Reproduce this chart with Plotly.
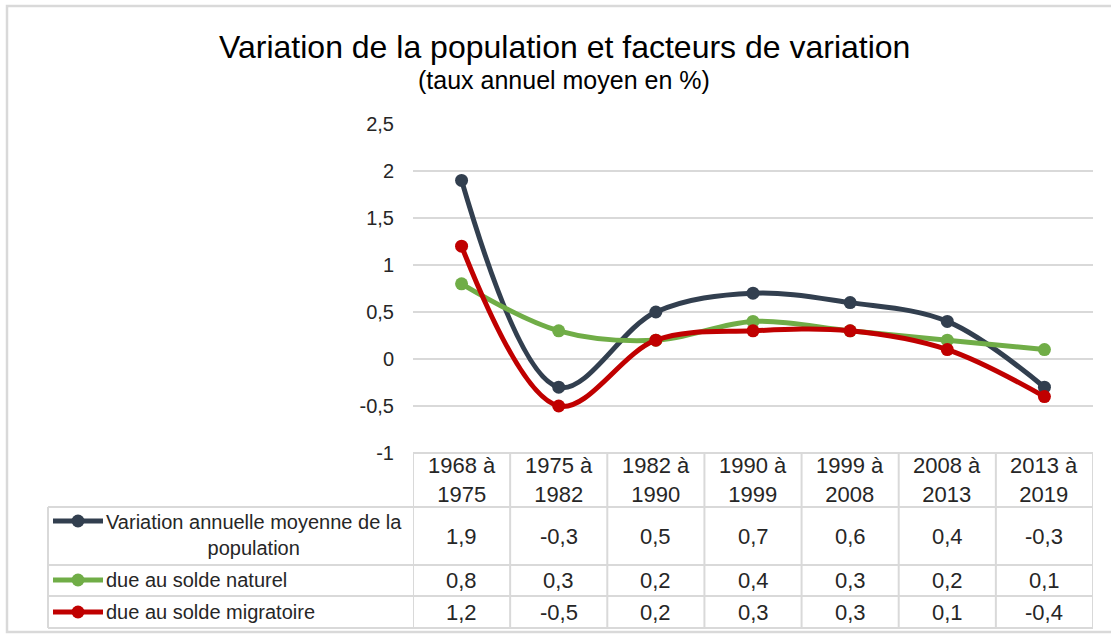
import plotly.graph_objects as go

# Periods and annual average rates (%)
periods = ["1968 à<br>1975", "1975 à<br>1982", "1982 à<br>1990", "1990 à<br>1999",
           "1999 à<br>2008", "2008 à<br>2013", "2013 à<br>2019"]
variation_totale = [1.9, -0.3, 0.5, 0.7, 0.6, 0.4, -0.3]
solde_naturel = [0.8, 0.3, 0.2, 0.4, 0.3, 0.2, 0.1]
solde_migratoire = [1.2, -0.5, 0.2, 0.3, 0.3, 0.1, -0.4]

series_names = ["Variation annuelle moyenne de la<br>population",
                "due au solde naturel",
                "due au solde migratoire"]
series_values = [variation_totale, solde_naturel, solde_migratoire]
series_colors = ["#323F4F", "#70AD47", "#C00000"]

y_ticks = [-1, -0.5, 0, 0.5, 1, 1.5, 2, 2.5]
y_ticktext = ["-1", "-0,5", "0", "0,5", "1", "1,5", "2", "2,5"]

W, H = 1111, 637
L, R, T, B = 413, 1093, 124, 453  # plot area in pixels


def px(x):
    return (x - L) / (R - L)


def py(y):
    return (B - y) / (B - T)


def fmt(v):
    return f"{v:.1f}".replace(".", ",")


BODY_FONT = "Liberation Sans, Arial, sans-serif"
TITLE_FONT = "Liberation Sans Narrow, Arial Narrow, Liberation Sans, sans-serif"
GRID = "#D9D9D9"
TEXT = "#262626"

xs = list(range(len(periods)))

fig = go.Figure()
for name, vals, col in zip(series_names, series_values, series_colors):
    fig.add_trace(go.Scatter(
        x=xs, y=vals, name=name, mode="lines+markers",
        line=dict(color=col, width=5, shape="spline", smoothing=1.0),
        marker=dict(color=col, size=13),
        cliponaxis=False, showlegend=False,
    ))

shapes = []
annotations = []

# outer chart frame
shapes.append(dict(type="rect", xref="paper", yref="paper",
                   x0=px(7), x1=px(1130), y0=py(632), y1=py(6),
                   line=dict(color=GRID, width=2.5), layer="below"))

# data table grid
row_edges = [453, 507, 565, 596, 628]
for i, ye in enumerate(row_edges):
    x_start = L if i == 0 else 48
    shapes.append(dict(type="line", xref="paper", yref="paper",
                       x0=px(x_start), x1=px(R), y0=py(ye), y1=py(ye),
                       line=dict(color=GRID, width=2)))
for k in range(len(periods) + 1):
    shapes.append(dict(type="line", xref="x", yref="paper",
                       x0=k - 0.5, x1=k - 0.5, y0=py(453), y1=py(628),
                       line=dict(color=GRID, width=2)))
shapes.append(dict(type="line", xref="paper", yref="paper",
                   x0=px(48), x1=px(48), y0=py(507), y1=py(628),
                   line=dict(color=GRID, width=2)))

# header row (periods)
for k, p in enumerate(periods):
    annotations.append(dict(xref="x", yref="paper", x=k, y=py(480),
                            text=p, showarrow=False, yanchor="middle",
                            font=dict(family=BODY_FONT, size=22, color=TEXT)))

# value rows
row_centers = [536, 580, 612]
for vals, yc in zip(series_values, row_centers):
    for k, v in enumerate(vals):
        annotations.append(dict(xref="x", yref="paper", x=k, y=py(yc),
                                text=fmt(v), showarrow=False, yanchor="middle",
                                font=dict(family=BODY_FONT, size=22, color=TEXT)))

# legend keys inside the table
key_y = [521, 580, 612]
for name, col, yk in zip(series_names, series_colors, key_y):
    shapes.append(dict(type="line", xref="paper", yref="paper",
                       x0=px(53), x1=px(103), y0=py(yk), y1=py(yk),
                       line=dict(color=col, width=5)))
    shapes.append(dict(type="circle", xref="paper", yref="paper",
                       x0=px(71.5), x1=px(84.5), y0=py(yk + 6.5), y1=py(yk - 6.5),
                       fillcolor=col, line=dict(color=col, width=0)))
annotations.append(dict(xref="paper", yref="paper", x=px(104), y=py(535),
                        text=series_names[0], showarrow=False, xanchor="left",
                        yanchor="middle", align="center",
                        font=dict(family=BODY_FONT, size=20, color=TEXT)))
for name, yk in zip(series_names[1:], key_y[1:]):
    annotations.append(dict(xref="paper", yref="paper", x=px(104), y=py(yk),
                            text=name, showarrow=False, xanchor="left",
                            yanchor="middle",
                            font=dict(family=BODY_FONT, size=20, color=TEXT)))

# titles
annotations.append(dict(xref="paper", yref="paper", x=px(564), y=py(47),
                        text="Variation de la population et facteurs de variation",
                        showarrow=False, xanchor="center", yanchor="middle",
                        font=dict(family=TITLE_FONT, size=32, color="#000000")))
annotations.append(dict(xref="paper", yref="paper", x=px(564), y=py(80),
                        text="(taux annuel moyen en %)",
                        showarrow=False, xanchor="center", yanchor="middle",
                        font=dict(family=TITLE_FONT, size=25, color="#000000")))

fig.update_layout(
    width=W, height=H,
    margin=dict(l=L, r=W - R, t=T, b=H - B, pad=0),
    paper_bgcolor="white", plot_bgcolor="white",
    xaxis=dict(range=[-0.5, len(periods) - 0.5], showgrid=False, zeroline=False,
               showticklabels=False, showline=False, fixedrange=True),
    yaxis=dict(range=[-1, 2.5], tickvals=y_ticks, ticktext=y_ticktext,
               showgrid=True, gridcolor=GRID, gridwidth=2, zeroline=False,
               showline=False, ticks="", ticklabelstandoff=18,
               tickfont=dict(family=BODY_FONT, size=20, color=TEXT)),
    shapes=shapes, annotations=annotations,
)

fig.write_html("out.html")
